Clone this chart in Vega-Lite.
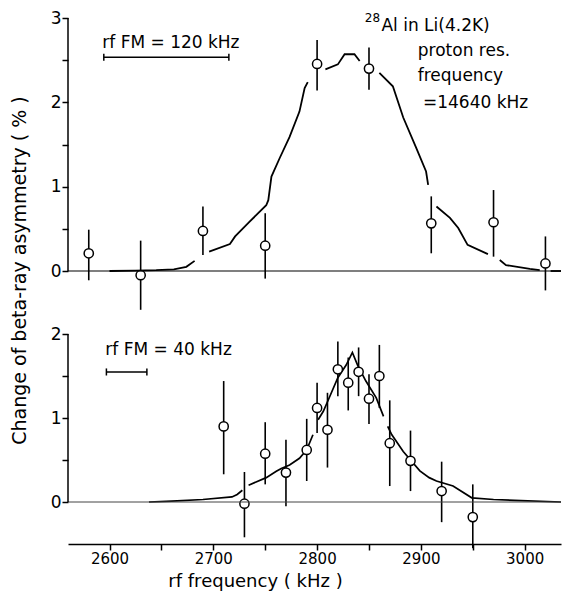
{
  "$schema": "https://vega.github.io/schema/vega-lite/v6.json",
  "background": "white",
  "padding": 9,
  "width": 493,
  "height": 484,
  "config": {
    "view": {"stroke": null},
    "font": "DejaVu Sans",
    "axis": {
      "grid": false,
      "domainColor": "black",
      "domainWidth": 1.5,
      "tickColor": "black",
      "tickWidth": 1.5,
      "labelColor": "black",
      "titleColor": "black",
      "titleFontWeight": "normal"
    }
  },
  "resolve": {"scale": {"y": "independent"}},
  "layer": [
    {
      "layer": [
        {
          "data": {"values": [
            {"seg": "A", "f": 2600, "v": 0.0},
            {"seg": "A", "f": 2625, "v": 0.005},
            {"seg": "A", "f": 2645, "v": 0.01},
            {"seg": "A", "f": 2662, "v": 0.02},
            {"seg": "A", "f": 2674, "v": 0.05},
            {"seg": "A", "f": 2682, "v": 0.12},
            {"seg": "B", "f": 2696, "v": 0.23},
            {"seg": "B", "f": 2716, "v": 0.32},
            {"seg": "B", "f": 2721, "v": 0.41},
            {"seg": "B", "f": 2735, "v": 0.585},
            {"seg": "B", "f": 2751, "v": 0.78},
            {"seg": "B", "f": 2753, "v": 0.84},
            {"seg": "B", "f": 2756, "v": 1.12},
            {"seg": "B", "f": 2764, "v": 1.34},
            {"seg": "B", "f": 2773.5, "v": 1.59},
            {"seg": "B", "f": 2783, "v": 1.89},
            {"seg": "B", "f": 2788, "v": 2.17},
            {"seg": "B", "f": 2791, "v": 2.24},
            {"seg": "C", "f": 2808, "v": 2.39},
            {"seg": "C", "f": 2820, "v": 2.45},
            {"seg": "C", "f": 2826.5, "v": 2.57},
            {"seg": "C", "f": 2836, "v": 2.57},
            {"seg": "C", "f": 2841, "v": 2.49},
            {"seg": "D", "f": 2860, "v": 2.35},
            {"seg": "D", "f": 2873, "v": 2.19},
            {"seg": "D", "f": 2883, "v": 1.82},
            {"seg": "D", "f": 2895.5, "v": 1.46},
            {"seg": "D", "f": 2905, "v": 1.18},
            {"seg": "D", "f": 2907, "v": 1.02},
            {"seg": "E", "f": 2915, "v": 0.765},
            {"seg": "E", "f": 2928, "v": 0.63},
            {"seg": "E", "f": 2936, "v": 0.51},
            {"seg": "E", "f": 2945, "v": 0.31},
            {"seg": "E", "f": 2964.6, "v": 0.20},
            {"seg": "F", "f": 2976, "v": 0.13},
            {"seg": "F", "f": 2982, "v": 0.07},
            {"seg": "F", "f": 3005, "v": 0.025},
            {"seg": "F", "f": 3014.5, "v": 0.01},
            {"seg": "G", "f": 3025, "v": 0.0},
            {"seg": "G", "f": 3035, "v": 0.0}
          ]},
          "mark": {"type": "line", "color": "black", "strokeWidth": 1.8},
          "encoding": {
            "x": {"field": "f", "type": "quantitative"},
            "y": {"field": "v", "type": "quantitative"},
            "detail": {"field": "seg", "type": "nominal"}
          }
        },
        {
          "data": {"values": [
            {"f": 2580, "v": 0.21, "lo": -0.11, "hi": 0.49},
            {"f": 2630, "v": -0.05, "lo": -0.46, "hi": 0.36},
            {"f": 2690, "v": 0.475, "lo": 0.19, "hi": 0.765},
            {"f": 2750, "v": 0.30, "lo": -0.09, "hi": 0.685},
            {"f": 2800, "v": 2.455, "lo": 2.14, "hi": 2.74},
            {"f": 2850, "v": 2.40, "lo": 2.15, "hi": 2.65},
            {"f": 2910, "v": 0.565, "lo": 0.21, "hi": 0.885},
            {"f": 2970, "v": 0.578, "lo": 0.17, "hi": 0.96},
            {"f": 3020, "v": 0.09, "lo": -0.23, "hi": 0.41}
          ]},
          "layer": [
            {
              "mark": {"type": "rule", "color": "black", "strokeWidth": 1.6},
              "encoding": {
                "x": {"field": "f", "type": "quantitative"},
                "y": {"field": "lo", "type": "quantitative"},
                "y2": {"field": "hi"}
              }
            },
            {
              "mark": {"type": "point", "shape": "circle", "filled": true, "fill": "white", "stroke": "black", "strokeWidth": 1.5, "size": 85, "opacity": 1},
              "encoding": {
                "x": {"field": "f", "type": "quantitative", "scale": {"domain": [2560, 3035], "nice": false, "zero": false}},
                "y": {
                  "field": "v", "type": "quantitative",
                  "scale": {"domain": [-2.739, 3], "nice": false, "zero": false},
                  "axis": {
                    "orient": "left",
                    "title": null,
                    "domain": false,
                    "values": [0, 0.5, 1, 1.5, 2, 2.5, 3],
                    "labelExpr": "datum.value % 1 === 0 ? datum.value : ''",
                    "tickSize": 6,
                    "labelPadding": 1,
                    "labelFontSize": 17
                  }
                }
              }
            }
          ]
        },
        {
          "data": {"values": [
            {"f": 2593, "v": 2.644, "label": "rf FM = 120 kHz"},
            {"f": 2862, "v": 2.846, "label": "Al in Li(4.2K)"},
            {"f": 2897, "v": 2.55, "label": "proton res."},
            {"f": 2897, "v": 2.253, "label": "frequency"},
            {"f": 2902, "v": 1.933, "label": "=14640 kHz"}
          ]},
          "mark": {"type": "text", "align": "left", "baseline": "alphabetic", "fontSize": 17, "color": "black"},
          "encoding": {
            "x": {"field": "f", "type": "quantitative"},
            "y": {"field": "v", "type": "quantitative"},
            "text": {"field": "label", "type": "nominal"}
          }
        },
        {
          "data": {"values": [{"f": 2846, "v": 2.95, "label": "28"}]},
          "mark": {"type": "text", "align": "left", "baseline": "alphabetic", "fontSize": 12, "color": "black"},
          "encoding": {
            "x": {"field": "f", "type": "quantitative"},
            "y": {"field": "v", "type": "quantitative"},
            "text": {"field": "label", "type": "nominal"}
          }
        },
        {
          "data": {"values": [{"f1": 2594.5, "f2": 2715, "v": 2.534}]},
          "layer": [
            {
              "mark": {"type": "rule", "color": "black", "strokeWidth": 1.2},
              "encoding": {
                "y": {"datum": 0, "type": "quantitative"}
              }
            },
            {
              "mark": {"type": "rule", "color": "black", "strokeWidth": 1.5},
              "encoding": {
                "x": {"datum": 2560, "type": "quantitative"},
                "y": {"datum": 0, "type": "quantitative"},
                "y2": {"datum": 3}
              }
            },
            {
              "mark": {"type": "rule", "color": "black", "strokeWidth": 1.5},
              "encoding": {
                "x": {"field": "f1", "type": "quantitative"},
                "x2": {"field": "f2"},
                "y": {"field": "v", "type": "quantitative"}
              }
            },
            {
              "mark": {"type": "rule", "color": "black", "strokeWidth": 1.5},
              "encoding": {
                "x": {"field": "f1", "type": "quantitative"},
                "y": {"datum": 2.492, "type": "quantitative"},
                "y2": {"datum": 2.576}
              }
            },
            {
              "mark": {"type": "rule", "color": "black", "strokeWidth": 1.5},
              "encoding": {
                "x": {"field": "f2", "type": "quantitative"},
                "y": {"datum": 2.492, "type": "quantitative"},
                "y2": {"datum": 2.576}
              }
            }
          ]
        }
      ]
    },
    {
      "layer": [
        {
          "data": {"values": [
            {"seg": "A", "f": 2638, "v": 0.0},
            {"seg": "A", "f": 2660, "v": 0.01},
            {"seg": "A", "f": 2690, "v": 0.03},
            {"seg": "A", "f": 2718, "v": 0.06},
            {"seg": "A", "f": 2723, "v": 0.09},
            {"seg": "A", "f": 2728, "v": 0.14},
            {"seg": "B", "f": 2734, "v": 0.2},
            {"seg": "B", "f": 2751, "v": 0.29},
            {"seg": "B", "f": 2760.7, "v": 0.365},
            {"seg": "B", "f": 2765.5, "v": 0.40},
            {"seg": "B", "f": 2773.5, "v": 0.44},
            {"seg": "B", "f": 2783, "v": 0.52},
            {"seg": "B", "f": 2790, "v": 0.62},
            {"seg": "B", "f": 2796, "v": 0.80},
            {"seg": "C", "f": 2801, "v": 0.98},
            {"seg": "C", "f": 2806, "v": 1.08},
            {"seg": "C", "f": 2812, "v": 1.25},
            {"seg": "C", "f": 2820, "v": 1.48},
            {"seg": "C", "f": 2828, "v": 1.63},
            {"seg": "C", "f": 2834, "v": 1.78},
            {"seg": "C", "f": 2839, "v": 1.63},
            {"seg": "C", "f": 2847, "v": 1.44},
            {"seg": "C", "f": 2857, "v": 1.24},
            {"seg": "C", "f": 2864, "v": 1.02},
            {"seg": "D", "f": 2868, "v": 0.90},
            {"seg": "D", "f": 2872, "v": 0.80},
            {"seg": "D", "f": 2883, "v": 0.60},
            {"seg": "D", "f": 2899, "v": 0.37},
            {"seg": "D", "f": 2908, "v": 0.29},
            {"seg": "D", "f": 2915, "v": 0.25},
            {"seg": "D", "f": 2931, "v": 0.19},
            {"seg": "D", "f": 2949, "v": 0.05},
            {"seg": "D", "f": 2970, "v": 0.03},
            {"seg": "D", "f": 2990, "v": 0.02},
            {"seg": "D", "f": 3035, "v": 0.0}
          ]},
          "mark": {"type": "line", "color": "black", "strokeWidth": 1.7},
          "encoding": {
            "x": {"field": "f", "type": "quantitative"},
            "y": {"field": "v", "type": "quantitative"},
            "detail": {"field": "seg", "type": "nominal"}
          }
        },
        {
          "data": {"values": [
            {"f": 2710, "v": 0.90, "lo": 0.33, "hi": 1.44},
            {"f": 2730, "v": -0.02, "lo": -0.42, "hi": 0.357},
            {"f": 2750, "v": 0.575, "lo": 0.21, "hi": 0.95},
            {"f": 2770, "v": 0.35, "lo": -0.05, "hi": 0.74},
            {"f": 2790, "v": 0.62, "lo": 0.25, "hi": 0.99},
            {"f": 2800, "v": 1.12, "lo": 0.82, "hi": 1.42},
            {"f": 2810, "v": 0.86, "lo": 0.41, "hi": 1.30},
            {"f": 2820, "v": 1.58, "lo": 1.26, "hi": 1.91},
            {"f": 2830, "v": 1.42, "lo": 1.09, "hi": 1.72},
            {"f": 2840, "v": 1.55, "lo": 1.26, "hi": 1.84},
            {"f": 2850, "v": 1.23, "lo": 0.93, "hi": 1.52},
            {"f": 2860, "v": 1.50, "lo": 1.12, "hi": 1.87},
            {"f": 2870, "v": 0.70, "lo": 0.19, "hi": 1.21},
            {"f": 2890, "v": 0.49, "lo": 0.13, "hi": 0.85},
            {"f": 2920, "v": 0.13, "lo": -0.24, "hi": 0.48},
            {"f": 2950, "v": -0.18, "lo": -0.55, "hi": 0.21}
          ]},
          "layer": [
            {
              "mark": {"type": "rule", "color": "black", "strokeWidth": 1.6},
              "encoding": {
                "x": {"field": "f", "type": "quantitative"},
                "y": {"field": "lo", "type": "quantitative"},
                "y2": {"field": "hi"}
              }
            },
            {
              "mark": {"type": "point", "shape": "circle", "filled": true, "fill": "white", "stroke": "black", "strokeWidth": 1.5, "size": 85, "opacity": 1},
              "encoding": {
                "x": {
                  "field": "f", "type": "quantitative",
                  "scale": {"domain": [2560, 3035], "nice": false, "zero": false},
                  "axis": {
                    "title": "rf frequency ( kHz )",
                    "offset": 42,
                    "values": [2600, 2650, 2700, 2750, 2800, 2850, 2900, 2950, 3000],
                    "labelExpr": "datum.value % 100 === 0 ? datum.value : ''",
                    "tickSize": 6,
                    "labelPadding": 1,
                    "labelFontSize": 15,
                    "titleFontSize": 18,
                    "titleX": 187,
                    "titleY": 37,
                    "titleBaseline": "middle"
                  }
                },
                "y": {
                  "field": "v", "type": "quantitative",
                  "scale": {"domain": [0, 5.762], "nice": false, "zero": false},
                  "axis": {
                    "orient": "left",
                    "title": "Change of beta-ray asymmetry ( % )",
                    "titleFontSize": 19,
                    "titleX": -49,
                    "titleY": 252,
                    "titleBaseline": "middle",
                    "titleAlign": "center",
                    "titleAngle": 270,
                    "domain": false,
                    "values": [0, 0.5, 1, 1.5, 2],
                    "labelExpr": "datum.value % 1 === 0 ? datum.value : ''",
                    "tickSize": 6,
                    "labelPadding": 1,
                    "labelFontSize": 17
                  }
                }
              }
            }
          ]
        },
        {
          "data": {"values": [{"f": 2596, "v": 1.746, "label": "rf FM = 40 kHz"}]},
          "mark": {"type": "text", "align": "left", "baseline": "alphabetic", "fontSize": 17, "color": "black"},
          "encoding": {
            "x": {"field": "f", "type": "quantitative"},
            "y": {"field": "v", "type": "quantitative"},
            "text": {"field": "label", "type": "nominal"}
          }
        },
        {
          "data": {"values": [{"f1": 2597, "f2": 2636, "v": 1.548}]},
          "layer": [
            {
              "mark": {"type": "rule", "color": "#444444", "strokeWidth": 1},
              "encoding": {
                "y": {"datum": 0, "type": "quantitative"}
              }
            },
            {
              "mark": {"type": "rule", "color": "black", "strokeWidth": 1.5},
              "encoding": {
                "x": {"datum": 2560, "type": "quantitative"},
                "y": {"datum": 0, "type": "quantitative"},
                "y2": {"datum": 2}
              }
            },
            {
              "mark": {"type": "rule", "color": "black", "strokeWidth": 1.5},
              "encoding": {
                "x": {"field": "f1", "type": "quantitative"},
                "x2": {"field": "f2"},
                "y": {"field": "v", "type": "quantitative"}
              }
            },
            {
              "mark": {"type": "rule", "color": "black", "strokeWidth": 1.5},
              "encoding": {
                "x": {"field": "f1", "type": "quantitative"},
                "y": {"datum": 1.506, "type": "quantitative"},
                "y2": {"datum": 1.59}
              }
            },
            {
              "mark": {"type": "rule", "color": "black", "strokeWidth": 1.5},
              "encoding": {
                "x": {"field": "f2", "type": "quantitative"},
                "y": {"datum": 1.506, "type": "quantitative"},
                "y2": {"datum": 1.59}
              }
            }
          ]
        }
      ]
    }
  ]
}
